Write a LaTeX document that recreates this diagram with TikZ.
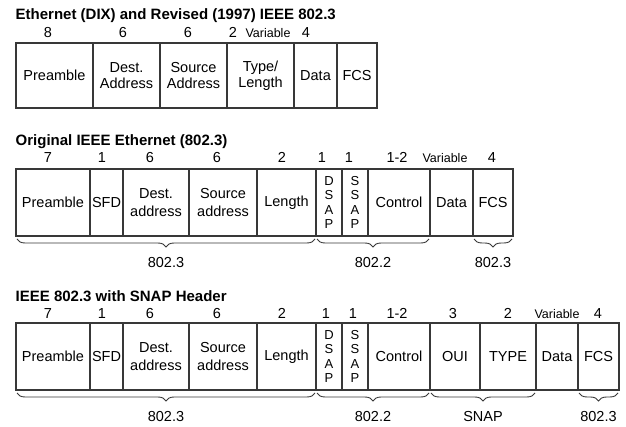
\documentclass[tikz,border=0pt]{standalone}
\usepackage{fontspec}
\setmainfont{Liberation Sans}
\usetikzlibrary{positioning,decorations.pathreplacing}
\definecolor{boxline}{gray}{0.22}
\tikzset{
field/.style={
  draw=boxline,
  line width=1.1pt,
  inner sep=0pt,
  outer sep=0pt,
  align=center,
  font=\fontsize{14.5}{17.5}\selectfont
  },
plain/.style={},
stack/.style={font=\fontsize{13}{14.5}\selectfont},
hdr/.style={anchor=base west, inner sep=0pt, font=\fontsize{15}{18}\selectfont\bfseries},
num/.style={anchor=base, inner sep=0pt, font=\fontsize{14.5}{17}\selectfont},
var/.style={num, font=\fontsize{12.5}{15}\selectfont},
brc/.style={draw=boxline, line width=0.9pt, decorate,
  decoration={brace,mirror,amplitude=8pt}},
brlabel/.style={midway, below=18pt, inner sep=0pt, font=\fontsize{14.5}{17}\selectfont}
}

\begin{document}
\begin{tikzpicture}[x=1pt,y=1pt]
\useasboundingbox (0,0) rectangle (626,-427);

% Ethernet (DIX)
\node[hdr] (title-a) at (15.5,-20) {Ethernet (DIX) and Revised (1997) IEEE 802.3};
\foreach \x/\n [count=\i] in {48/8, 123/6, 188/6, 233/2, 306/4}
  \node[num] (na-\i) at (\x,-38) {\n};
\node[var] (na-var) at (268,-38) {Variable};
\coordinate (a-0) at (16,-75.5);
\foreach \w/\t [count=\i, remember=\i as \j (initially 0)] in
  {77/Preamble, 67/{Dest.\\[-1.5pt]Address}, 67/{Source\\[-1.5pt]Address},
   67/{Type/\\[-1.5pt]Length}, 43/Data, 40/FCS}
  \node[field, minimum width=\w, minimum height=65, right=0pt of a-\j] (a-\i) {\t};

% original 802.3
\node[hdr] (title-b) at (15.5,-146) {Original IEEE Ethernet (802.3)};
\foreach \x/\n [count=\i] in {48/7, 102/1, 150/6, 217/6, 282/2, 322/1, 349/1, 397/1-2, 492/4}
  \node[num] (nb-\i) at (\x,-163) {\n};
\node[var] (nb-var) at (445,-163) {Variable};
\coordinate (b-0) at (16,-202.5);
\foreach \w/\t/\s [count=\i, remember=\i as \j (initially 0)] in
  {74/Preamble/plain, 33/SFD/plain, 66/{Dest.\\address}/plain,
   68/{Source\\address}/plain, 59/Length/plain,
   26/{D\\S\\A\\P}/stack, 26/{S\\S\\A\\P}/stack,
   62/Control/plain, 43/Data/plain, 40/FCS/plain}
  \node[field, \s, minimum width=\w, minimum height=67, right=0pt of b-\j] (b-\i) {\t};
\draw[brc] ([xshift=1pt,yshift=-3pt]b-1.south west) -- ([xshift=-1pt,yshift=-3pt]b-5.south east)
  node[brlabel] (lb-1) {802.3};
\draw[brc] ([xshift=1pt,yshift=-3pt]b-6.south west) -- ([xshift=-1pt,yshift=-3pt]b-8.south east)
  node[brlabel] (lb-2) {802.2};
\draw[brc] ([xshift=1pt,yshift=-3pt]b-10.south west) -- ([xshift=-1pt,yshift=-3pt]b-10.south east)
  node[brlabel] (lb-3) {802.3};

% 802.3 with SNAP
\node[hdr] (title-c) at (15.5,-302) {IEEE 802.3 with SNAP Header};
\foreach \x/\n [count=\i] in {48/7, 102/1, 150/6, 217/6, 282/2, 326/1, 353/1, 397/1-2, 453/3, 508/2, 598/4}
  \node[num] (nc-\i) at (\x,-319) {\n};
\node[var] (nc-var) at (557,-319) {Variable};
\coordinate (c-0) at (16,-356.5);
\foreach \w/\t/\s [count=\i, remember=\i as \j (initially 0)] in
  {74/Preamble/plain, 33/SFD/plain, 66/{Dest.\\address}/plain,
   68/{Source\\address}/plain, 59/Length/plain,
   26/{D\\S\\A\\P}/stack, 26/{S\\S\\A\\P}/stack,
   62/Control/plain, 50/OUI/plain, 56/TYPE/plain, 42/Data/plain, 41/FCS/plain}
  \node[field, \s, minimum width=\w, minimum height=67, right=0pt of c-\j] (c-\i) {\t};
\draw[brc] ([xshift=1pt,yshift=-3pt]c-1.south west) -- ([xshift=-1pt,yshift=-3pt]c-5.south east)
  node[brlabel] (lc-1) {802.3};
\draw[brc] ([xshift=1pt,yshift=-3pt]c-6.south west) -- ([xshift=-1pt,yshift=-3pt]c-8.south east)
  node[brlabel] (lc-2) {802.2};
\draw[brc] ([xshift=1pt,yshift=-3pt]c-9.south west) -- ([xshift=-1pt,yshift=-3pt]c-10.south east)
  node[brlabel] (lc-3) {SNAP};
\draw[brc] ([xshift=1pt,yshift=-3pt]c-12.south west) -- ([xshift=-1pt,yshift=-3pt]c-12.south east)
  node[brlabel] (lc-4) {802.3};

\end{tikzpicture}
\end{document}
